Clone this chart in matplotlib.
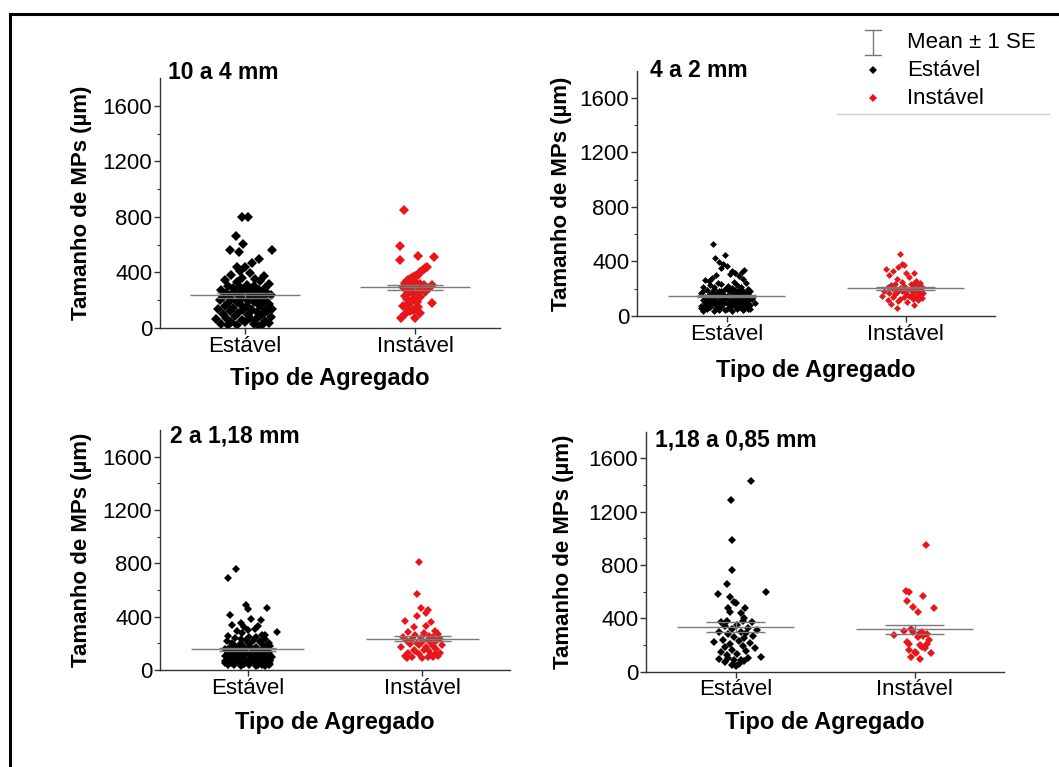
import matplotlib
matplotlib.use("Agg")
import matplotlib.pyplot as plt
import numpy as np
from matplotlib.lines import Line2D

plt.rcParams['font.family'] = ['Liberation Sans', 'DejaVu Sans']

categories = ["Estável", "Instável"]
panel_titles = ["10 a 4 mm", "4 a 2 mm", "2 a 1,18 mm", "1,18 a 0,85 mm"]
y_ticks = [0, 400, 800, 1200, 1600]
x_label = "Tipo de Agregado"
y_label = "Tamanho de MPs (µm)"

# ---- 10 a 4 mm ----
est_10_4 = [801, 801, 665, 605, 561, 549, 561, 494, 470, 441, 441, 410,
            394, 380, 372, 360, 350, 345, 335, 330, 320, 312,
            305, 300, 295, 290, 285, 280, 275, 272, 268, 265,
            260, 258, 255, 250, 248, 245, 240, 238, 235, 230,
            225, 220, 215, 212, 208, 205, 200, 196, 192, 188,
            185, 180, 175, 170, 165, 160, 155, 150, 145, 140,
            135, 130, 128, 125, 120, 115, 110, 105, 100, 95,
            90, 85, 80, 75, 70, 65, 60, 55, 50, 45,
            40, 35, 30, 28, 25, 22, 20, 18]
est_10_4_dx = [-0.02, 0.02, -0.055, -0.01, -0.09, -0.035, 0.16, 0.08, 0.04, -0.05, 0.0, -0.03,
               0.03, -0.08, 0.11, -0.02, 0.06, -0.12, 0.09, -0.05, 0.14, 0.01,
               -0.10, 0.05, -0.03, 0.12, -0.07, 0.02, 0.08, -0.14, 0.04, -0.01,
               0.10, -0.06, 0.13, -0.11, 0.00, 0.07, -0.04, 0.15, -0.09, 0.03,
               -0.13, 0.06, -0.02, 0.11, -0.08, 0.09, -0.15, 0.02, 0.12, -0.05,
               0.05, -0.10, 0.14, -0.03, 0.08, -0.12, 0.01, 0.10, -0.07, 0.16,
               -0.16, 0.04, -0.01, 0.13, -0.09, 0.07, -0.04, 0.11, -0.13, 0.02,
               0.09, -0.06, 0.15, -0.11, 0.03, -0.17, 0.06, -0.02, 0.12, -0.08,
               0.00, 0.14, -0.14, 0.05, -0.05, 0.10, -0.10, 0.08]
inst_10_4 = [850, 590, 518, 513, 490, 441, 430, 420, 400, 380,
             372, 365, 360, 352, 345, 340, 335, 330, 325, 320,
             315, 310, 310, 305, 300, 295, 290, 285, 280, 275,
             270, 265, 260, 250, 240, 230, 220, 210, 200, 190,
             178, 170, 160, 153, 140, 120, 100, 70, 70, 110,
             130, 150, 180]
inst_10_4_dx = [-0.065, -0.09, 0.015, 0.11, -0.09, 0.07, 0.06, 0.045, 0.03, 0.015,
                0.0, -0.01, -0.02, -0.03, -0.04, -0.05, -0.03, 0.0, -0.06, 0.03,
                -0.02, 0.10, 0.05, -0.04, 0.01, -0.07, 0.08, -0.01, 0.04, -0.05,
                0.02, -0.03, 0.06, -0.04, 0.0, -0.06, 0.03, -0.05, -0.02, 0.01,
                0.10, -0.04, -0.07, -0.05, 0.0, -0.03, -0.06, -0.08, 0.0, 0.03,
                -0.01, 0.02, -0.03]

# ---- 4 a 2 mm ----
est_4_2 = [525, 447, 423, 396, 385, 370, 350, 337, 330, 325,
           318, 310, 300, 290, 280, 272, 264, 258, 250, 245,
           240, 235, 230, 225, 220, 215, 210, 205, 200, 198,
           195, 190, 188, 185, 182, 180, 178, 175, 172, 170,
           168, 165, 162, 160, 158, 155, 152, 150, 148, 145,
           142, 140, 138, 135, 132, 130, 128, 125, 122, 120,
           118, 115, 112, 110, 108, 105, 102, 100, 98, 97,
           95, 92, 90, 88, 85, 82, 80, 78, 75, 73,
           70, 68, 66, 65, 62, 60, 58, 55, 52, 50,
           48, 45, 42, 40, 38, 35, 140, 135, 130, 125,
           120, 115, 110, 105, 100, 95, 90, 85, 80, 75,
           70, 130, 120, 110, 100, 90, 60, 55, 50, 45,
           100, 95, 60, 70, 80, 90, 100, 110, 120, 130,
           140, 150, 160, 170, 180, 190, 200, 210, 50, 65,
           85, 105, 125, 145, 165, 185]
est_4_2_dx = [-0.075, -0.01, -0.065, -0.04, -0.02, 0.00, -0.03, 0.10, 0.03, 0.085,
              0.05, 0.02, -0.06, 0.07, -0.08, 0.09, -0.12, -0.10, 0.04, -0.05,
              0.11, -0.03, 0.06, -0.09, 0.01, 0.08, -0.13, 0.03, -0.07, 0.12,
              -0.01, 0.05, -0.11, 0.09, -0.04, 0.13, -0.08, 0.02, 0.07, -0.14,
              0.04, -0.06, 0.10, -0.02, 0.12, -0.10, 0.06, -0.05, 0.00, 0.08,
              -0.12, 0.03, -0.07, 0.11, -0.03, 0.05, -0.09, 0.14, -0.01, 0.07,
              -0.13, 0.02, 0.09, -0.06, 0.12, -0.04, 0.06, -0.11, 0.01, 0.16,
              -0.08, 0.10, -0.02, 0.04, -0.10, 0.13, -0.05, 0.07, -0.14, -0.12,
              0.05, -0.03, 0.11, -0.09, 0.02, 0.08, -0.06, 0.12, -0.11, 0.00,
              0.06, -0.04, 0.09, -0.13, 0.03, -0.07, 0.10, -0.01, 0.13, -0.10,
              0.04, -0.08, 0.07, -0.02, 0.11, -0.12, 0.01, 0.08, -0.05, 0.12,
              -0.09, 0.05, -0.03, 0.10, -0.11, 0.02, 0.09, -0.06, 0.13, -0.01,
              0.06, -0.07, -0.14, 0.12, -0.06, 0.03, -0.11, 0.09, -0.02, 0.14,
              -0.09, 0.05, -0.04, 0.11, -0.13, 0.07, 0.00, -0.07, 0.10, -0.12,
              0.04, -0.05, 0.13, -0.10, 0.06, -0.03]
inst_4_2 = [455, 380, 374, 360, 342, 330, 318, 318, 300, 285,
            270, 260, 250, 245, 242, 238, 232, 228, 225, 220,
            215, 212, 210, 205, 200, 198, 195, 192, 190, 188,
            185, 182, 180, 178, 175, 172, 170, 168, 165, 160,
            155, 150, 145, 141, 138, 132, 128, 125, 120, 115,
            110, 100, 90, 80, 56, 150, 140, 130]
inst_4_2_dx = [-0.03, -0.02, -0.01, -0.04, -0.11, -0.07, 0.00, 0.05, -0.09, 0.02,
               -0.05, 0.06, -0.02, 0.08, 0.05, -0.06, 0.03, -0.08, 0.07, -0.01,
               0.04, -0.10, 0.09, -0.03, 0.01, 0.06, -0.07, 0.03, -0.04, 0.08,
               -0.12, 0.05, -0.02, 0.07, -0.05, 0.10, 0.00, -0.09, 0.04, -0.06,
               0.08, -0.13, 0.02, -0.07, 0.06, 0.09, -0.03, 0.04, -0.10, 0.07,
               -0.04, 0.01, -0.08, 0.05, -0.05, 0.03, -0.01, 0.06]

# ---- 2 a 1,18 mm ----
est_2_118 = [758, 688, 488, 463, 458, 413, 385, 375, 350, 340,
             330, 320, 310, 300, 290, 283, 275, 265, 255, 245,
             240, 232, 225, 220, 215, 210, 205, 200, 195, 190,
             185, 180, 178, 175, 172, 170, 168, 165, 162, 160,
             158, 155, 152, 150, 148, 145, 142, 140, 138, 135,
             132, 130, 128, 125, 122, 120, 118, 115, 112, 110,
             108, 105, 102, 100, 98, 95, 92, 90, 88, 85,
             82, 80, 78, 75, 72, 70, 68, 65, 62, 60,
             58, 55, 52, 50, 48, 45, 42, 40, 38, 35,
             32, 30, 150, 140, 130, 120, 110, 100, 90, 80,
             70, 60, 145, 135, 125, 115, 105, 95, 85, 75,
             65, 55, 50, 45, 40, 35, 30, 60, 70, 80,
             40, 55, 70, 85, 100, 115, 130, 145, 160, 175,
             190, 205, 220, 235, 250, 265, 45, 75, 105, 135]
est_2_118_dx = [-0.065, -0.11, -0.01, 0.11, 0.00, -0.10, 0.02, 0.076, -0.04, -0.09,
                0.06, -0.02, 0.04, 0.00, -0.06, 0.17, -0.03, 0.08, -0.11, 0.05,
                -0.07, 0.10, -0.01, 0.03, -0.12, 0.07, -0.04, 0.12, 0.01, -0.08,
                0.09, -0.05, 0.13, -0.02, 0.05, -0.10, 0.02, 0.11, -0.07, 0.04,
                -0.13, 0.08, 0.00, -0.06, 0.10, -0.03, 0.06, -0.09, 0.12, -0.01,
                0.03, -0.11, 0.07, -0.04, 0.09, 0.01, -0.08, 0.13, -0.05, 0.04,
                -0.12, 0.06, -0.02, 0.10, -0.09, 0.02, 0.08, -0.06, 0.11, -0.03,
                0.05, -0.10, 0.12, -0.01, 0.07, -0.13, 0.03, -0.07, 0.09, 0.00,
                -0.05, 0.11, -0.09, 0.04, -0.02, 0.13, -0.11, 0.06, 0.01, -0.08,
                0.10, -0.04, 0.08, -0.12, 0.05, -0.06, 0.02, 0.12, -0.03, 0.07,
                -0.10, 0.04, -0.07, 0.09, -0.01, 0.11, -0.13, 0.03, -0.05, 0.06,
                0.00, -0.09, 0.10, -0.02, 0.08, -0.11, 0.05, -0.04, 0.13, -0.08,
                0.12, -0.13, 0.05, -0.07, 0.14, -0.02, 0.09, -0.11, 0.03, -0.06,
                0.11, -0.09, 0.07, -0.04, 0.01, 0.10, -0.08, 0.13, -0.12, 0.04]
inst_2_118 = [813, 568, 465, 450, 430, 405, 368, 358, 330, 320,
              290, 285, 280, 270, 262, 255, 250, 245, 240, 235,
              230, 225, 220, 215, 210, 205, 200, 195, 190, 185,
              180, 175, 170, 160, 150, 140, 130, 120, 108, 105,
              95, 88, 100, 110, 120, 130, 140, 150, 90, 100]
inst_2_118_dx = [-0.02, -0.03, -0.01, 0.03, 0.02, -0.03, -0.10, 0.05, 0.02, -0.05,
                 0.07, -0.08, 0.01, 0.09, -0.04, 0.04, -0.11, 0.06, -0.01, 0.10,
                 -0.06, 0.03, -0.09, 0.08, 0.00, -0.03, 0.05, -0.07, 0.11, -0.02,
                 0.06, -0.12, 0.02, 0.08, -0.05, 0.04, -0.08, 0.07, 0.09, -0.10,
                 0.03, 0.00, -0.06, 0.05, -0.02, 0.10, -0.04, 0.01, -0.09, 0.06]

# ---- 1,18 a 0,85 mm ----
est_118_085 = [1431, 1290, 987, 762, 658, 600, 583, 558, 526, 515,
               479, 479, 449, 444, 400, 377, 377, 372, 372, 350,
               340, 330, 320, 310, 300, 295, 290, 280, 270, 260,
               250, 240, 230, 223, 215, 205, 195, 185, 175, 165,
               155, 145, 135, 125, 112, 105, 100, 95, 90, 85,
               80, 70, 60, 50, 40]
est_118_085_dx = [0.086, -0.025, -0.02, -0.02, -0.05, 0.17, -0.10, -0.03, -0.01, 0.00,
                  -0.04, 0.055, -0.03, 0.03, 0.05, -0.05, 0.04, 0.09, -0.08, 0.01,
                  -0.06, 0.07, -0.02, 0.12, 0.03, -0.09, 0.06, -0.04, 0.10, -0.01,
                  0.05, -0.07, 0.02, -0.12, 0.08, -0.03, 0.04, -0.06, 0.11, -0.02,
                  0.06, -0.08, 0.01, -0.05, 0.14, -0.04, 0.07, -0.09, 0.03, -0.01,
                  0.05, -0.06, 0.02, -0.02, 0.00]
inst_118_085 = [948, 608, 600, 571, 530, 489, 476, 446, 320, 305,
                300, 295, 290, 280, 278, 270, 260, 240, 225, 211,
                211, 200, 188, 175, 163, 150, 140, 137, 110, 92]
inst_118_085_dx = [0.067, -0.05, -0.03, 0.05, -0.04, -0.01, 0.11, 0.02, -0.02, -0.06,
                   -0.01, 0.04, 0.03, 0.07, -0.115, 0.05, 0.02, 0.08, -0.04, -0.03,
                   0.07, 0.03, 0.04, 0.06, -0.03, 0.00, 0.01, 0.09, -0.02, 0.03]

panels = [
    (est_10_4, est_10_4_dx, inst_10_4, inst_10_4_dx),
    (est_4_2, est_4_2_dx, inst_4_2, inst_4_2_dx),
    (est_2_118, est_2_118_dx, inst_2_118, inst_2_118_dx),
    (est_118_085, est_118_085_dx, inst_118_085, inst_118_085_dx),
]
for grp in panels:
    assert len(grp[0]) == len(grp[1]) and len(grp[2]) == len(grp[3])

COLORS = ["#000000", "#e8161b"]
MEAN_COLOR = "#7a7a7a"

W, H = 1059, 767
fig = plt.figure(figsize=(W / 100, H / 100), dpi=100)

# pixel layout of each panel: x_left, x_right, y_top, y_bottom,
# marker size, title (x, baseline), ylabel centre x, xlabel centre y
layout = [
    (160, 500, 78, 328, 5.2, (168, 79), 82, 378),
    (637, 995, 70.7, 316, 3.5, (650, 77), 562, 371),
    (160, 510, 430, 670, 3.6, (170, 443), 82, 723),
    (646, 1004, 431.7, 671.7, 3.6, (655, 446), 564, 723),
]


def add_px_axes(x0, x1, yt, yb):
    return fig.add_axes([x0 / W, 1 - yb / H, (x1 - x0) / W, (yb - yt) / H])


for (x0, x1, yt, yb, ms, tpos, ylx, xly), title, grp in zip(layout, panel_titles, panels):
    ax = add_px_axes(x0, x1, yt, yb)
    groups = [(grp[0], grp[1]), (grp[2], grp[3])]
    for i, ((vals, dx), col) in enumerate(zip(groups, COLORS)):
        c = i + 1
        vals = np.asarray(vals, float)
        xs = c + np.asarray(dx, float)
        ax.plot(xs, vals, linestyle="none", marker="D", markersize=ms,
                color=col, markeredgewidth=0, zorder=2)
        mean = vals.mean()
        se = vals.std(ddof=1) / np.sqrt(len(vals))
        ax.hlines(mean, c - 0.325, c + 0.325, color=MEAN_COLOR, lw=1.0, zorder=3)
        ax.hlines([mean - se, mean + se], c - 0.165, c + 0.165,
                  color=MEAN_COLOR, lw=1.0, zorder=3)
        ax.vlines(c, mean - se, mean + se, color=MEAN_COLOR, lw=1.0, zorder=3)

    ax.set_xlim(0.5, 2.5)
    ax.set_ylim(0, 1800)
    ax.set_xticks([1, 2])
    ax.set_xticklabels(categories, fontsize=16)
    ax.set_yticks(y_ticks)
    ax.set_yticklabels([str(v) for v in y_ticks], fontsize=16)
    ax.set_yticks([200, 600, 1000, 1400], minor=True)
    ax.tick_params(axis="both", which="major", direction="out", length=4,
                   width=1, pad=1.5, color="#333333")
    ax.tick_params(axis="y", which="minor", direction="out", length=2.5,
                   width=0.8, color="#333333")
    for s in ("top", "right"):
        ax.spines[s].set_visible(False)
    for s in ("left", "bottom"):
        ax.spines[s].set_color("#333333")
        ax.spines[s].set_linewidth(1.0)

    ax.set_ylabel(y_label, fontsize=16, fontweight="bold", va="center", ha="center")
    ax.yaxis.set_label_coords((ylx - x0) / (x1 - x0), 0.5)
    ax.set_xlabel(x_label, fontsize=17, fontweight="bold", va="center", ha="center")
    ax.xaxis.set_label_coords(0.5, -(xly - yb) / (yb - yt))

    fig.text(tpos[0] / W, 1 - tpos[1] / H, title, fontsize=16.5,
             fontweight="bold", ha="left", va="baseline")

# legend
lg_x, lg_text_x = 873, 907
lg_rows = [42, 70, 98]
eb = 12.5
fig.add_artist(Line2D([lg_x / W] * 2, [1 - (lg_rows[0] - eb) / H, 1 - (lg_rows[0] + eb) / H],
                      color=MEAN_COLOR, lw=1))
for yy in (lg_rows[0] - eb, lg_rows[0] + eb):
    fig.add_artist(Line2D([(lg_x - 8) / W, (lg_x + 8) / W], [1 - yy / H] * 2,
                          color=MEAN_COLOR, lw=1))
fig.add_artist(Line2D([lg_x / W], [1 - lg_rows[1] / H], marker="D", markersize=4.4,
                      color=COLORS[0], markeredgewidth=0, linestyle="none"))
fig.add_artist(Line2D([lg_x / W], [1 - lg_rows[2] / H], marker="D", markersize=4.4,
                      color=COLORS[1], markeredgewidth=0, linestyle="none"))
for yy, txt in zip(lg_rows, ["Mean ± 1 SE"] + categories):
    fig.text(lg_text_x / W, 1 - yy / H, txt, fontsize=16, ha="left", va="center")
fig.add_artist(Line2D([837 / W, 1049 / W], [1 - 114 / H] * 2, color="#d0d0d0", lw=1))

# outer frame (left and top edges)
fig.add_artist(Line2D([10 / W, 10 / W], [0, 1 - 14 / H], color="black", lw=2.2))
fig.add_artist(Line2D([10 / W, 1], [1 - 14 / H, 1 - 14 / H], color="black", lw=2.2))

fig.savefig("out.png", dpi=100)
